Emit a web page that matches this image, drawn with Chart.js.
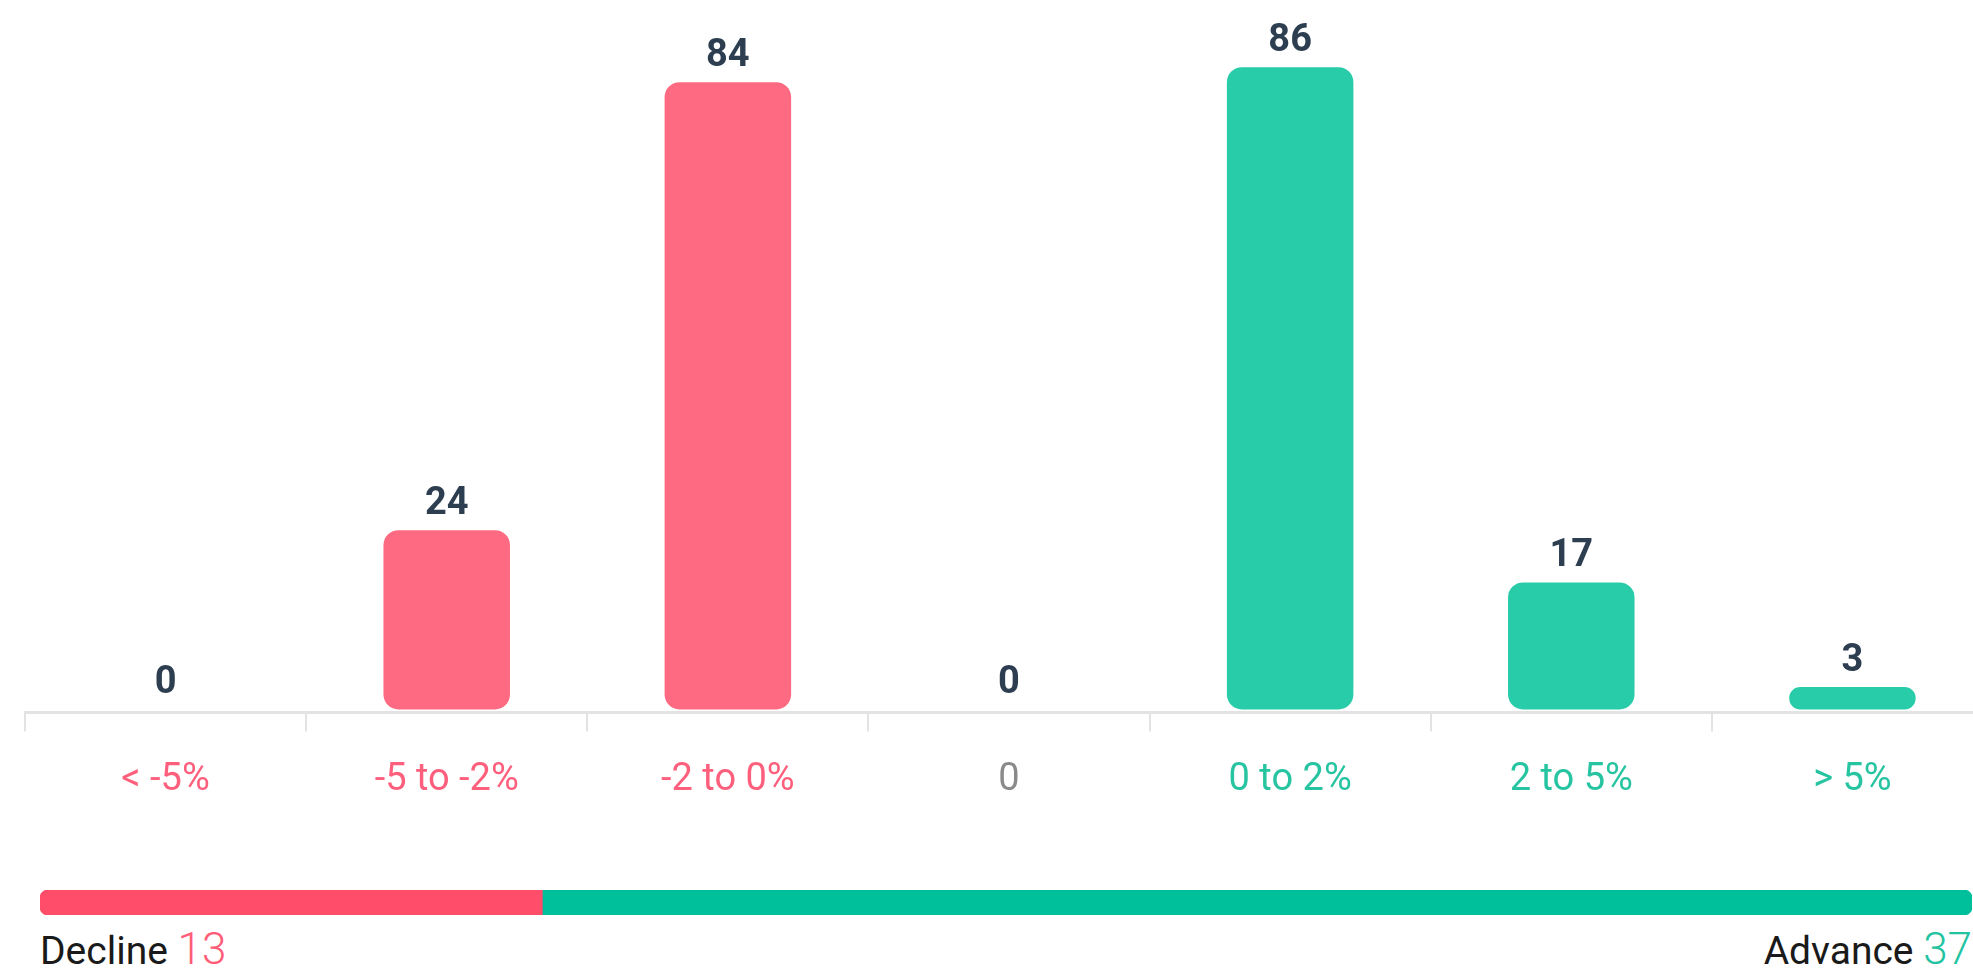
<!DOCTYPE html>
<html>
<head>
<meta charset="utf-8">
<script src="https://cdn.jsdelivr.net/npm/chart.js@4"></script>
<style>
    html, body { margin: 0; padding: 0; background: #fff; overflow: hidden; width: 1973px; height: 969px; }
    #main  { position: absolute; left: 0; top: 0; }
    #ratio { position: absolute; left: 40px; top: 890px; }
    .foot  { position: absolute; top: 930px; font: 39px Roboto, sans-serif; line-height: 39px; color: #1a1a1a; white-space: nowrap; }
    .foot span { font-weight: 300; font-size: 44px; }
    #decline { left: 40px; }
    #decline span { color: #ff5c78; }
    #advance { right: 1px; }
    #advance span { color: #22c3a0; }
</style>
</head>
<body>
<canvas id="main" width="1995" height="829"></canvas>
<canvas id="ratio" width="1932" height="25"></canvas>
<div class="foot" id="decline">Decline <span></span></div>
<div class="foot" id="advance">Advance <span></span></div>
<script>
const ranges  = ['< -5%', '-5 to -2%', '-2 to 0%', '0', '0 to 2%', '2 to 5%', '> 5%'];
const counts  = [0, 24, 84, 0, 86, 17, 3];
const sides   = ['down', 'down', 'down', 'flat', 'up', 'up', 'up'];

const breadthLabels = ['Decline', 'Advance'];
const breadth       = [13, 37];

const barColor  = { down: '#fd6a81', flat: '#9a9a9a', up: '#29cca9' };
const tickColor = { down: '#fd5f7c', flat: '#8a8a8a', up: '#26c4a1' };

// numbers above each bar
const valueLabels = {
    id: 'valueLabels',
    afterDatasetsDraw(chart) {
        const ctx  = chart.ctx;
        const meta = chart.getDatasetMeta(0);
        ctx.save();
        ctx.font = 'bold 38px Roboto, sans-serif';
        ctx.fillStyle = '#2c3e50';
        ctx.textAlign = 'center';
        ctx.textBaseline = 'alphabetic';
        meta.data.forEach((bar, i) => ctx.fillText(counts[i], bar.x, bar.y - 16));
        ctx.restore();
    },
};

new Chart(document.getElementById('main'), {
    type: 'bar',
    data: {
        labels: ranges,
        datasets: [{
            data: counts,
            backgroundColor: sides.map(s => barColor[s]),
            borderRadius: 15,
            borderSkipped: false,
            barPercentage: 0.45,
            categoryPercentage: 1,
        }],
    },
    options: {
        responsive: false,
        animation: false,
        layout: { padding: { left: 25, right: 2, top: 0, bottom: 0 } },
        plugins: { legend: { display: false }, tooltip: { enabled: false } },
        scales: {
            x: {
                offset: true,
                border: { display: true, color: '#e3e3e3', width: 3 },
                grid: { drawOnChartArea: false, drawTicks: true, tickLength: 19, color: '#e3e3e3', lineWidth: 2, offset: true },
                ticks: {
                    padding: 26,
                    font: { family: 'Roboto', size: 38 },
                    color: ctx => tickColor[sides[ctx.index]],
                    maxRotation: 0,
                    autoSkip: false,
                },
            },
            y: { display: false, min: -0.4, max: 95 },
        },
    },
    plugins: [valueLabels],
});

// advance / decline ratio strip
new Chart(document.getElementById('ratio'), {
    type: 'bar',
    data: {
        labels: [''],
        datasets: [
            { label: breadthLabels[0], data: [breadth[0]], backgroundColor: '#ff4d6a', borderSkipped: false,
              borderRadius: { topLeft: 8, bottomLeft: 8, topRight: 0, bottomRight: 0 } },
            { label: breadthLabels[1], data: [breadth[1]], backgroundColor: '#00c09b', borderSkipped: false,
              borderRadius: { topLeft: 0, bottomLeft: 0, topRight: 8, bottomRight: 8 } },
        ],
    },
    options: {
        indexAxis: 'y',
        responsive: false,
        animation: false,
        layout: { padding: 0 },
        datasets: { bar: { barPercentage: 1, categoryPercentage: 1 } },
        plugins: { legend: { display: false }, tooltip: { enabled: false } },
        scales: {
            x: { display: false, stacked: true, min: 0, max: breadth[0] + breadth[1] },
            y: { display: false, stacked: true },
        },
    },
});

document.querySelector('#decline span').textContent = breadth[0];
document.querySelector('#advance span').textContent = breadth[1];
</script>
</body>
</html>
